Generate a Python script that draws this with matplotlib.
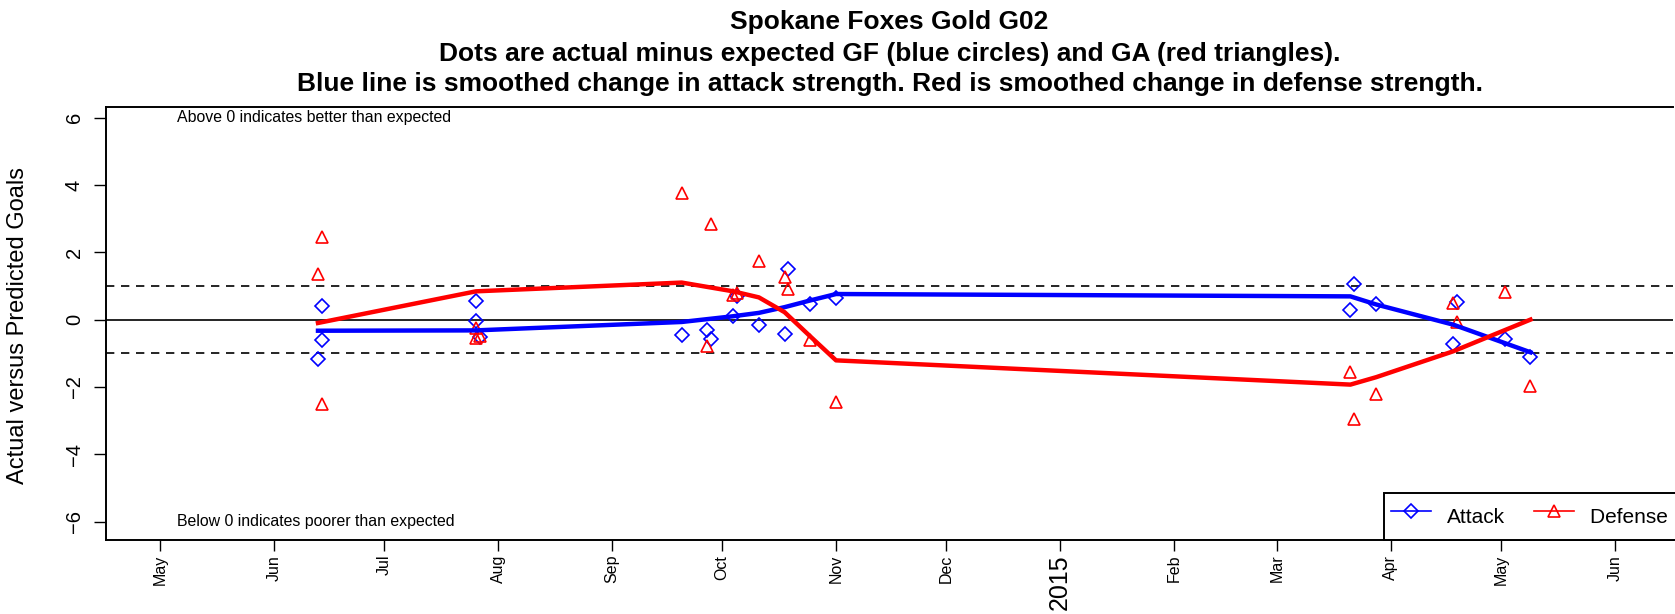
import datetime as dt
import matplotlib
matplotlib.use('Agg')
import matplotlib.pyplot as plt
import matplotlib.dates as mdates
from matplotlib.lines import Line2D

plt.rcParams['font.family'] = ['Liberation Sans', 'DejaVu Sans']

# game-by-game actual minus expected
game_dates = ['2014-06-13', '2014-06-14', '2014-06-14', '2014-07-26', '2014-07-26',
              '2014-07-27', '2014-09-20', '2014-09-27', '2014-09-28', '2014-10-04',
              '2014-10-05', '2014-10-11', '2014-10-18', '2014-10-19', '2014-10-25',
              '2014-11-01', '2015-03-21', '2015-03-22', '2015-03-28', '2015-04-18',
              '2015-04-19', '2015-05-02', '2015-05-09']
attack = [-1.17, 0.39, -0.60, 0.55, -0.05, -0.52, -0.47, -0.32, -0.57, 0.10,
          0.69, -0.15, -0.43, 1.51, 0.45, 0.65, 0.28, 1.06, 0.45, -0.71,
          0.52, -0.57, -1.11]
defense = [1.35, 2.45, -2.50, -0.25, -0.55, -0.48, 3.77, -0.79, 2.85, 0.74,
           0.80, 1.74, 1.27, 0.92, -0.60, -2.45, -1.56, -2.95, -2.20, 0.48,
           -0.07, 0.82, -1.96]

# smoothed strength changes
smooth_dates = ['2014-06-13', '2014-07-26', '2014-09-20', '2014-10-04', '2014-10-11',
                '2014-10-18', '2014-10-25', '2014-11-01', '2015-03-21', '2015-03-28',
                '2015-04-18', '2015-05-09']
attack_smooth = [-0.33, -0.32, -0.07, 0.10, 0.20, 0.37, 0.57, 0.76, 0.69, 0.45, -0.15, -0.97]
defense_smooth = [-0.10, 0.84, 1.10, 0.84, 0.66, 0.22, -0.50, -1.21, -1.93, -1.71, -0.94, 0.00]

tick_dates = ['2014-05-01', '2014-06-01', '2014-07-01', '2014-08-01', '2014-09-01',
              '2014-10-01', '2014-11-01', '2014-12-01', '2015-01-01', '2015-02-01',
              '2015-03-01', '2015-04-01', '2015-05-01', '2015-06-01']
tick_labels = ['May', 'Jun', 'Jul', 'Aug', 'Sep', 'Oct', 'Nov', 'Dec', '2015',
               'Feb', 'Mar', 'Apr', 'May', 'Jun']
y_ticks = [-6, -4, -2, 0, 2, 4, 6]

titles = ['Spokane Foxes Gold G02',
          'Dots are actual minus expected GF (blue circles) and GA (red triangles).',
          'Blue line is smoothed change in attack strength. Red is smoothed change in defense strength.']


def d(s):
    return mdates.date2num(dt.datetime.strptime(s, '%Y-%m-%d'))


gx = [d(s) for s in game_dates]
sx = [d(s) for s in smooth_dates]

W, H = 1675, 614
fig = plt.figure(figsize=(W / 100, H / 100), dpi=100)
ax = fig.add_axes([106 / W, 74.5 / H, 1567 / W, 432.7 / H])

ax.axhline(0, color='black', lw=1.2, zorder=1)
ax.axhline(1, color='black', lw=1.2, ls=(0, (5, 4)), zorder=1)
ax.axhline(-1, color='black', lw=1.2, ls=(0, (5, 4)), zorder=1)

ax.plot(gx, attack, ls='none', marker='D', ms=7, mfc='none', mec='#0000FF', mew=1.2, zorder=2)
ax.plot(gx, defense, ls='none', marker='^', ms=8.5, mfc='none', mec='#FF0000', mew=1.2, zorder=2)
ax.plot(sx, attack_smooth, color='#0000FF', lw=3.2, solid_joinstyle='round', zorder=3)
ax.plot(sx, defense_smooth, color='#FF0000', lw=3.2, solid_joinstyle='round', zorder=3)

may1 = d('2014-05-01')
ax.set_xlim(may1 - 14.7, may1 + 411.8)
ax.set_ylim(-6.53, 6.32)

ax.text(may1 + 4.5, 6, 'Above 0 indicates better than expected', ha='left', va='center', fontsize=11.4)
ax.text(may1 + 4.5, -6, 'Below 0 indicates poorer than expected', ha='left', va='center', fontsize=11.4)

ax.set_xticks([d(s) for s in tick_dates])
ax.set_xticklabels(tick_labels, rotation=90, va='top', ha='center')
ax.tick_params(axis='x', length=8, width=1, labelsize=11.5, pad=3)
for lab in ax.get_xticklabels():
    if lab.get_text() == '2015':
        lab.set_fontsize(18)

ax.set_yticks(y_ticks)
ax.set_yticklabels([str(v).replace('-', '\u2212') for v in y_ticks], rotation=90, va='center')
ax.tick_params(axis='y', length=9, width=1, labelsize=14.5, pad=7)

for side in ['left', 'bottom', 'top']:
    ax.spines[side].set_linewidth(1.4)
ax.spines['right'].set_visible(False)

fig.text(18 / W, 1 - 325 / H, 'Actual versus Predicted Goals', rotation=90,
         ha='center', va='center', fontsize=17)

cx = (106 + 1673) / 2 / W
for txt, yy in zip(titles, [22.5, 54, 84]):
    fig.text(cx, 1 - yy / H, txt, ha='center', va='center', fontsize=19, fontweight='bold')

# legend box runs off the right edge of the picture, as in the original
handles = [Line2D([], [], color='#0000FF', lw=1.2, marker='D', ms=7, mfc='none', mew=1.2),
           Line2D([], [], color='#FF0000', lw=1.2, marker='^', ms=8.5, mfc='none', mew=1.2)]
leg = ax.legend(handles, ['Attack', 'Defense '], ncol=2, loc='lower left',
                bbox_to_anchor=((1384 - 106) / 1567, 0), borderaxespad=0,
                fancybox=False, framealpha=1, edgecolor='black', fontsize=15,
                handlelength=1.9, handletextpad=0.78, columnspacing=1.4, borderpad=0.35,
                handleheight=2.0)
leg.get_frame().set_linewidth(1.4)

fig.savefig('out.png', dpi=100)
